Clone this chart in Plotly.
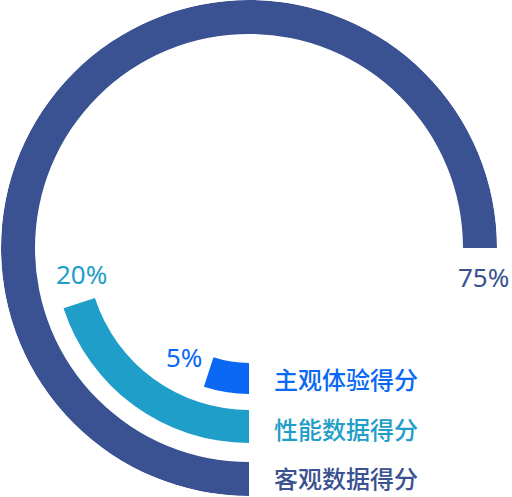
import plotly.graph_objects as go

categories = ["主观体验得分", "性能数据得分", "客观数据得分"]
values = [5, 20, 75]
pct_labels = ["5%", "20%", "75%"]
colors = ["#0a68f5", "#1e9ec8", "#3a5192"]

# ring geometry (radial units = px)
bases = [115, 162, 214]
thick = [31, 33, 34]

W, H = 512, 497
cx, cy, R = 249, 248, 248

fig = go.Figure()
for cat, v, c, b, t in zip(categories, values, colors, bases, thick):
    fig.add_trace(go.Barpolar(
        r=[t], base=[b], theta=[v * 3.6 / 2], width=[v * 3.6],
        marker=dict(color=c, line=dict(width=0)),
        name=cat, hoverinfo="skip", showlegend=False,
    ))

def px(x, y):
    return x / W, 1 - y / H

annotations = []
# percentage labels
pct_pos = [(184, 357), (81, 274), (483, 277)]
for lab, c, (x, y) in zip(pct_labels, colors, pct_pos):
    ax, ay = px(x, y)
    annotations.append(dict(x=ax, y=ay, xref="paper", yref="paper", text=lab,
                            showarrow=False, xanchor="center", yanchor="middle",
                            font=dict(size=26, color=c, family="Noto Sans, sans-serif")))
# category labels
cat_y = [378, 428, 477]
for cat, c, y in zip(categories, colors, cat_y):
    ax, ay = px(272, y)
    annotations.append(dict(x=ax, y=ay, xref="paper", yref="paper", text=cat,
                            showarrow=False, xanchor="left", yanchor="middle",
                            font=dict(size=24, color=c, family="Noto Sans CJK SC", weight=500)))

fig.update_layout(
    width=W, height=H,
    margin=dict(l=0, r=0, t=0, b=0),
    paper_bgcolor="white", plot_bgcolor="white",
    polar=dict(
        domain=dict(x=[(cx - R) / W, (cx + R) / W], y=[1 - (cy + R) / H, 1 - (cy - R) / H]),
        bgcolor="white",
        radialaxis=dict(range=[0, R], visible=False, showgrid=False),
        angularaxis=dict(rotation=-90, direction="clockwise", visible=False, showgrid=False),
    ),
    annotations=annotations,
)
fig.write_html("out.html", config={"displayModeBar": False},
               post_script="document.body.style.margin='0px';")
